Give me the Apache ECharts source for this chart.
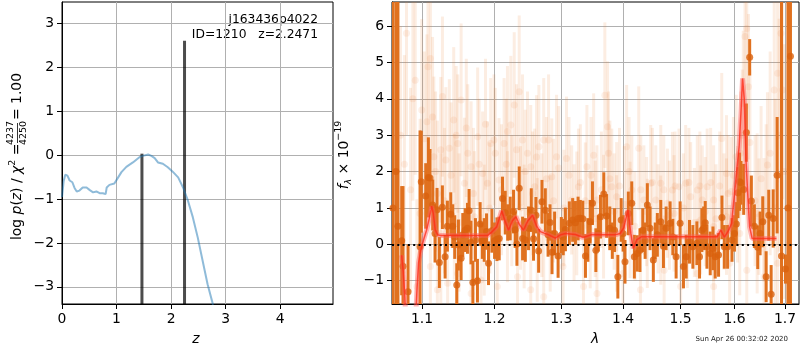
<!DOCTYPE html>
<html><head><meta charset="utf-8">
<script src="https://cdn.jsdelivr.net/npm/echarts@6/dist/echarts.min.js"></script>
<style>html,body{margin:0;padding:0;background:#fff}#c{width:800px;height:350px}</style>
</head><body><div id="c"></div><script>
// ---------- left panel: log p(z) ----------
const pzZ = [0,0.03,0.06,0.10,0.14,0.19,0.23,0.27,0.32,0.38,0.45,0.51,0.57,0.63,0.69,0.75,0.80,0.82,0.87,0.96,
  1.03,1.09,1.18,1.30,1.42,1.48,1.58,1.64,1.70,1.76,1.85,1.94,2.03,2.13,2.22,2.31,2.40,2.49,2.58,2.67,2.77];
const pzLog = [-0.96,-0.60,-0.45,-0.47,-0.58,-0.62,-0.75,-0.83,-0.81,-0.74,-0.74,-0.80,-0.85,-0.83,-0.87,-0.87,-0.89,-0.74,-0.68,-0.65,
  -0.51,-0.39,-0.27,-0.17,-0.05,-0.02,0.01,-0.02,-0.07,-0.17,-0.20,-0.28,-0.38,-0.51,-0.74,-1.04,-1.42,-1.88,-2.41,-2.94,-3.41];
const peakZ = [1.466, 2.2471];
const peakTop = [0.03, 2.60];
const zTicks = [0,1,2,3,4];
const pTicks = [-3,-2,-1,0,1,2,3];

// ---------- right panel: spectrum ----------
const orangeLam = [
1.0623,1.0661,1.0687,1.0735,1.0752,1.0817,1.0974,1.0990,1.1049,1.1084,
1.1106,1.1142,1.1173,1.1200,1.1231,1.1272,1.1309,1.1340,1.1386,1.1413,
1.1440,1.1468,1.1491,1.1528,1.1551,1.1584,1.1616,1.1639,1.1665,1.1692,
1.1728,1.1756,1.1794,1.1825,1.1852,1.1885,1.1913,1.1962,1.2000,1.2034,
1.2067,1.2115,1.2154,1.2190,1.2227,1.2276,1.2300,1.2326,1.2360,1.2410,
1.2451,1.2499,1.2540,1.2574,1.2610,1.2651,1.2702,1.2753,1.2795,1.2825,
1.2856,1.2896,1.2950,1.3000,1.3030,1.3064,1.3126,1.3178,1.3222,1.3264,
1.3300,1.3340,1.3382,1.3421,1.3458,1.3495,1.3550,1.3590,1.3625,1.3680,
1.3726,1.3778,1.3820,1.3857,1.3912,1.3968,1.4000,1.4032,1.4088,1.4146,
1.4190,1.4240,1.4286,1.4334,1.4375,1.4413,1.4460,1.4517,1.4550,1.4587,
1.4647,1.4694,1.4741,1.4812,1.4860,1.4919,1.4991,1.5051,1.5101,1.5160,
1.5222,1.5295,1.5344,1.5387,1.5420,1.5449,1.5481,1.5542,1.5593,1.5635,
1.5698,1.5762,1.5807,1.5869,1.5953,1.6000,1.6036,1.6068,1.6099,1.6126,
1.6178,1.6230,1.6295,1.6328,1.6387,1.6453,1.6500,1.6552,1.6620,1.6672,
1.6720,1.6761,1.6841,1.6929,1.7010,1.7060,1.7112];
const orangeFlux = [
1.0,2.0,0.5,0.1,-0.6,-1.3,-0.07,1.72,1.33,1.84,
1.82,1.08,0.30,0.95,-0.50,1.02,-0.34,0.50,0.83,0.50,
0.20,-1.12,-0.02,-0.38,0.26,0.39,0.44,0.92,0.05,-1.05,
0.12,-1.00,0.56,0.10,0.12,0.35,-0.52,0.37,0.10,0.14,
0.16,1.26,0.87,0.60,0.71,0.90,0.40,0.01,1.54,0.16,
0.12,0.44,0.94,0.15,0.80,-0.18,1.17,0.94,0.26,0.60,
-0.22,0.30,-0.32,0.25,0.20,0.41,0.58,0.67,0.59,0.71,
0.72,0.70,-0.32,0.12,0.62,1.13,-0.16,0.30,0.76,1.38,
0.78,0.44,0.10,0.39,-0.89,0.67,0.30,-0.48,0.85,1.13,
-0.34,-0.25,-0.16,0.39,0.10,1.08,0.44,-0.43,0.10,0.26,
0.62,-0.05,0.44,0.58,0.20,-0.34,0.58,-0.61,-0.34,0.07,
-0.07,0.03,-0.34,0.39,0.44,0.59,-0.07,-0.25,-0.11,-0.34,
-0.29,0.74,-0.07,-0.07,0.12,0.30,0.56,1.42,1.72,1.69,
1.51,3.07,5.14,1.19,0.50,-0.08,0.30,0.62,-0.89,0.80,
-1.37,0.71,1.90,-0.32,-0.68,1.0,5.17];
const orangeErr = [
12,12,12,1.5,2.2,1.3,3.2,1.4,0.9,1.1,
0.8,0.7,0.8,0.6,0.7,0.6,0.6,0.7,0.6,0.6,
0.6,0.6,0.7,0.6,0.6,0.6,0.7,0.6,0.6,0.6,
0.6,0.6,0.6,0.5,0.6,0.5,0.6,0.6,0.5,0.6,
0.6,0.6,0.6,0.5,0.6,0.6,0.5,0.6,0.6,0.6,
0.6,0.6,0.6,0.6,0.5,0.6,0.6,0.6,0.6,0.5,
0.6,0.6,0.6,0.5,0.5,0.6,0.6,0.6,0.6,0.6,
0.5,0.5,0.6,0.6,0.6,0.6,0.6,0.5,0.6,0.6,
0.6,0.6,0.5,0.6,0.6,0.6,0.5,0.6,0.6,0.6,
0.6,0.5,0.6,0.6,0.5,0.6,0.6,0.6,0.5,0.6,
0.6,0.6,0.6,0.6,0.5,0.6,0.6,0.6,0.6,0.6,
0.6,0.6,0.6,0.6,0.6,0.6,0.6,0.6,0.6,0.6,
0.6,0.6,0.6,0.6,0.6,0.5,0.6,0.7,0.8,0.6,
0.7,0.8,0.5,0.7,0.6,0.6,0.6,0.7,0.7,0.7,
0.8,0.8,1.6,7,0.4,12,12];

const faintLam = [
1.0797,1.0911,1.0996,1.1065,1.1111,1.1079,1.1157,1.1204,1.1273,1.1319,
1.1366,1.1426,1.1481,1.1528,1.1574,1.1620,1.1667,1.1759,1.1829,1.1898,
1.1944,1.1991,1.2064,1.2138,1.2187,1.2236,1.2286,1.2360,1.2409,1.2483,
1.2532,1.2591,1.2655,1.2729,1.2803,1.2852,1.2926,1.3081,1.3162,1.3270,
1.3405,1.3514,1.3568,1.3697,1.3741,1.3757,1.3811,1.3892,1.4059,1.4147,
1.4265,1.4353,1.4471,1.4559,1.4647,1.4765,1.4853,1.4971,1.5091,1.5182,
1.5303,1.5394,1.5485,1.5606,1.5758,1.5848,1.5939,1.6034,1.6116,1.6170,
1.6204,1.6238,1.6272,1.6476,1.6578,1.6646,1.6782,1.6850,1.6918,1.6952,
1.0932,1.1111,1.1204,1.1343,1.1481,1.1667,1.1806,1.2039,1.2335,1.2532,
1.2729,1.3027,1.3351,1.3568,1.4000,1.4294,1.4706,1.5000,1.5303,1.5606,
1.5909,1.6238,1.6578,1.6850,
1.0975,1.1250,1.1435,1.1713,1.1852,1.2187,1.2433,1.2630,1.2828,1.3243,
1.3459,1.3676,1.3892,1.4118,1.4412,1.4647,1.4882,1.5121,1.5364,1.5606,
1.5848,1.6102,1.6442];
const faintFlux = [
5.80,4.51,3.69,3.37,5.11,4.88,2.41,1.40,4.06,2.32,
2.64,3.42,2.77,3.97,1.68,2.50,2.13,2.96,1.95,1.68,
2.77,2.87,1.77,2.77,3.10,3.28,3.83,4.19,2.87,2.50,
2.13,1.58,2.68,2.87,2.87,1.86,2.41,2.36,1.22,1.58,
2.13,2.45,1.22,4.10,3.23,2.50,1.58,1.31,2.68,1.49,
2.64,1.22,1.68,1.22,1.68,1.13,1.49,1.58,1.68,1.31,
1.49,1.22,1.58,1.22,2.91,1.95,1.45,2.41,2.50,3.87,
5.71,5.93,4.33,0.76,0.67,2.18,4.24,4.70,5.80,4.24,
-1.16,-0.61,-1.25,-1.07,-0.80,-1.35,-0.98,-1.16,-0.89,-1.25,
-1.44,-0.61,-1.16,-1.35,-0.80,-1.25,-0.71,-1.16,-0.80,-1.16,
-0.52,-0.71,-0.89,-0.52,
0.85,0.30,1.03,0.76,0.39,0.76,0.49,0.12,0.30,0.85,
0.39,0.76,0.30,0.67,0.30,0.39,0.85,0.30,0.67,0.49,
0.76,0.30,0.85];
const faintErr = [
2.8,2.6,2.5,2.4,2.6,2.6,2.2,2.0,2.2,2.0,
1.9,2.0,1.9,2.1,1.8,1.9,1.8,1.9,1.7,1.7,
1.8,1.8,1.7,1.8,1.8,1.9,2.0,2.1,1.8,1.7,
1.7,1.6,1.7,1.7,1.8,1.6,1.7,1.7,1.5,1.6,
1.7,1.7,1.5,2.0,1.8,1.7,1.6,1.5,1.7,1.5,
1.7,1.5,1.6,1.5,1.6,1.5,1.6,1.6,1.6,1.5,
1.5,1.5,1.6,1.5,1.8,1.6,1.5,1.7,1.7,2.0,
2.0,2.2,2.0,1.6,1.7,2.0,2.8,3.0,3.2,3.0,
2.4,2.0,2.2,2.0,1.8,1.9,1.8,1.8,1.7,1.8,
1.8,1.6,1.7,1.7,1.6,1.7,1.5,1.6,1.5,1.6,
1.6,1.7,2.2,2.6,
2.6,2.2,2.0,1.8,1.8,1.8,1.7,1.7,1.6,1.7,
1.6,1.7,1.6,1.6,1.5,1.5,1.6,1.5,1.5,1.5,
1.6,1.7,2.2];
// second set of faint (other exposure) points
const faint2Lam = [
1.0720,1.0770,1.0850,1.0880,1.1030,1.1140,1.1180,1.1250,1.1300,1.1390,
1.1460,1.1500,1.1600,1.1700,1.1780,1.1870,1.1930,1.2010,1.2100,1.2170,
1.2250,1.2320,1.2380,1.2450,1.2560,1.2620,1.2700,1.2770,1.2880,1.2960,
1.3040,1.3120,1.3200,1.3300,1.3380,1.3470,1.3540,1.3640,1.3780,1.3850,
1.3940,1.4020,1.4100,1.4200,1.4300,1.4400,1.4500,1.4600,1.4700,1.4800,
1.4900,1.5050,1.5150,1.5250,1.5350,1.5450,1.5550,1.5650,1.5720,1.5800,
1.5880,1.5980,1.6060,1.6150,1.6300,1.6400,1.6520,1.6620,1.6700,1.6800,
1.6880,1.6990];
const faint2Flux = [
3.0,2.2,1.5,4.0,2.9,3.5,2.0,2.6,1.2,1.9,
3.0,0.6,3.2,1.4,2.2,3.3,1.0,2.5,1.5,2.2,
1.2,2.6,1.0,2.0,1.4,2.4,0.8,1.8,1.2,2.1,
1.0,1.9,0.6,1.7,1.2,1.9,0.7,1.5,1.8,0.9,
1.6,1.1,2.0,0.5,1.5,0.9,1.7,0.7,1.5,0.8,
1.6,1.0,1.7,0.6,1.6,0.9,1.7,0.7,1.6,0.9,
1.4,1.9,1.1,3.0,2.8,1.2,1.8,0.9,2.5,1.0,
3.0,2.0];
const faint2Err = [
3.0,3.0,2.8,2.8,2.4,2.2,2.2,2.0,2.0,2.0,
1.9,1.9,1.9,1.8,1.8,1.8,1.8,1.8,1.8,1.8,
1.8,1.8,1.7,1.7,1.7,1.7,1.7,1.7,1.7,1.7,
1.6,1.6,1.6,1.6,1.6,1.6,1.6,1.6,1.6,1.6,
1.6,1.6,1.5,1.5,1.5,1.5,1.5,1.5,1.5,1.5,
1.5,1.5,1.5,1.5,1.5,1.5,1.5,1.5,1.5,1.6,
1.6,1.6,1.6,1.8,2.0,1.8,2.0,2.4,2.8,3.0,
3.2,3.5];

const modelLam = [1.0735,1.0755,1.0775,1.0790,1.0850,
1.0912,1.0935,1.0955,1.0985,1.1020,1.1060,1.1095,1.1128,1.1150,1.1175,1.1210,1.1250,1.1500,1.1750,1.1900,
1.1950,1.2030,1.2103,1.2150,1.2203,1.2260,1.2312,1.2360,1.2423,1.2490,1.2560,1.2620,1.2677,1.2805,1.2907,
1.2985,1.3064,1.3222,1.3339,1.3490,1.3651,1.3860,1.3950,1.4010,1.4082,1.4130,1.4172,1.4230,1.4315,1.5000,
1.5673,1.5739,1.5809,1.5891,1.5946,1.6002,1.6045,1.6090,1.6128,1.6156,1.6190,1.6223,1.6256,1.6294,1.6344,1.6827];
const modelFlux = [-0.30,-0.75,-1.40,-2.2,null,
-2.2,-1.2,-0.5,-0.15,0.12,0.39,0.70,1.05,0.85,0.40,0.26,0.24,0.24,0.24,0.24,
0.32,0.48,0.92,0.65,0.39,0.65,0.76,0.55,0.39,0.65,0.80,0.50,0.35,0.26,0.17,
0.26,0.30,0.27,0.19,0.27,0.26,0.26,0.30,0.45,0.94,0.30,-0.11,0.12,0.21,0.21,
0.21,0.39,0.20,0.39,0.58,1.40,2.04,2.68,3.69,4.56,3.99,2.32,1.40,0.48,0.16,0.16];
const lamTicks = [1.1,1.2,1.3,1.4,1.5,1.6,1.7];
const fTicks = [-1,0,1,2,3,4,5,6];

// axis ranges
const zMin = 0, zMax = 4.97, pMin = -3.39, pMax = 3.48;
const lamMin = 1.0611, lamMax = 1.7288, fMin = -1.64, fMax = 6.66;

const FONT = 'DejaVu Sans';
const minus = v => String(v).replace('-', '\u2212');
function axis(gi, min, max, ticks, fmt) {
  return {
    type: 'value', gridIndex: gi, min: min, max: max, scale: true,
    axisLine: {show: true, onZero: false, lineStyle: {color: '#000', width: 1}},
    axisTick: {show: true, length: 5, inside: false, lineStyle: {color: '#000', width: 1}, customValues: ticks},
    axisLabel: {show: true, customValues: ticks, formatter: fmt, color: '#000', fontFamily: FONT, fontSize: 13.9, margin: 8},
    splitLine: {show: true, lineStyle: {color: '#b0b0b0', width: 1}}
  };
}
function errSeries(xi, lams, flux, errs, color, width, logx, ylo, yhi) {
  return {
    type: 'custom', xAxisIndex: xi, yAxisIndex: xi, clip: true, silent: true,
    data: lams.map((l, i) => [logx ? Math.log(l) : l, flux[i], errs[i]]),
    encode: {x: 0, y: 1},
    renderItem: (params, api) => {
      const x = api.value(0), y = api.value(1), e = api.value(2);
      const a = api.coord([x, Math.max(ylo, y - e)]);
      const b = api.coord([x, Math.min(yhi, y + e)]);
      return {type: 'line', shape: {x1: a[0], y1: a[1], x2: b[0], y2: b[1]},
        style: {stroke: color, lineWidth: width}};
    }
  };
}

const allFaintLam = faintLam.concat(faint2Lam);
const allFaintFlux = faintFlux.concat(faint2Flux);
const allFaintErr = faintErr.concat(faint2Err);

const xL = axis(0, zMin, zMax, zTicks, v => minus(v));
const yL = axis(0, pMin, pMax, pTicks, v => minus(v));
const xR = axis(1, Math.log(lamMin), Math.log(lamMax), lamTicks.map(Math.log), v => Math.exp(v).toFixed(1));
const yR = axis(1, fMin, fMax, fTicks, v => minus(v));

const chart = echarts.init(document.getElementById('c'), null, {renderer: 'canvas'});
chart.setOption({
  animation: false,
  backgroundColor: '#fff',
  grid: [
    {left: 62, top: 2, width: 271, height: 302, show: true, borderColor: '#000', borderWidth: 1, backgroundColor: 'transparent'},
    {left: 392, top: 2, width: 407, height: 302, show: true, borderColor: '#000', borderWidth: 1, backgroundColor: 'transparent'}
  ],
  xAxis: [xL, xR],
  yAxis: [yL, yR],
  series: [
    {type: 'line', xAxisIndex: 0, yAxisIndex: 0, data: pzZ.map((z, i) => [z, pzLog[i]]), showSymbol: false,
      lineStyle: {color: 'rgba(31,119,180,0.5)', width: 2}, clip: true, silent: true},
    {type: 'custom', xAxisIndex: 0, yAxisIndex: 0, clip: true, silent: true,
      data: peakZ.map((z, i) => [z, peakTop[i]]), encode: {x: 0, y: 1},
      renderItem: (p, api) => {
        const a = api.coord([api.value(0), pMin]), b = api.coord([api.value(0), api.value(1)]);
        return {type: 'line', shape: {x1: a[0], y1: a[1], x2: b[0], y2: b[1]}, style: {stroke: 'rgba(0,0,0,0.7)', lineWidth: 3}};
      }},
    errSeries(1, allFaintLam, allFaintFlux, allFaintErr, 'rgba(235,125,50,0.14)', 3, true, fMin, fMax),
    {type: 'scatter', xAxisIndex: 1, yAxisIndex: 1, silent: true, symbolSize: 7,
      data: allFaintLam.map((l, i) => [Math.log(l), allFaintFlux[i]]),
      itemStyle: {color: 'rgba(235,125,50,0.14)'}},
    {type: 'line', xAxisIndex: 1, yAxisIndex: 1, silent: true, showSymbol: false, connectNulls: false,
      data: modelLam.map((l, i) => [Math.log(l), modelFlux[i] === null ? '-' : modelFlux[i]]),
      lineStyle: {color: 'rgba(255,90,90,0.45)', width: 5}},
    errSeries(1, orangeLam, orangeFlux, orangeErr, '#e0711f', 3, true, fMin, fMax),
    {type: 'scatter', xAxisIndex: 1, yAxisIndex: 1, silent: true, symbolSize: 7,
      data: orangeLam.map((l, i) => [Math.log(l), orangeFlux[i]]),
      itemStyle: {color: '#d9620e'}},
    {type: 'line', xAxisIndex: 1, yAxisIndex: 1, silent: true, showSymbol: false, connectNulls: false,
      data: modelLam.map((l, i) => [Math.log(l), modelFlux[i] === null ? '-' : modelFlux[i]]),
      lineStyle: {color: 'rgba(255,40,20,0.75)', width: 1.5},
      markLine: {silent: true, symbol: 'none', label: {show: false},
        lineStyle: {color: '#000', type: [2, 3.3], width: 2}, data: [{yAxis: 0}]}}
  ],
  graphic: [
    {type: 'text', x: 318, y: 20, style: {text: 'j163436p4022', font: '12.3px "DejaVu Sans"', fill: '#000', align: 'right', verticalAlign: 'middle'}},
    {type: 'text', x: 318, y: 35, style: {text: 'ID=1210   z=2.2471', font: '12.3px "DejaVu Sans"', fill: '#000', align: 'right', verticalAlign: 'middle'}},
    {type: 'text', x: 196, y: 339, style: {text: 'z', font: 'italic 13.9px "DejaVu Sans"', fill: '#000', align: 'center', verticalAlign: 'middle'}},
    {type: 'text', x: 595, y: 339, style: {text: 'λ', font: 'italic 13.9px "DejaVu Sans"', fill: '#000', align: 'center', verticalAlign: 'middle'}},
    {type: 'text', x: 788, y: 339, style: {text: 'Sun Apr 26 00:32:02 2020', font: '7px "DejaVu Sans"', fill: '#222', align: 'right', verticalAlign: 'middle'}},
    {type: 'group', x: 17, y: 240, rotation: Math.PI / 2, children: [
      {type: 'text', x: 0, y: 0, style: {text: '{n|log }{i|p}{n|(}{i|z}{n|) / }{i|χ}{s|2}{n| =}', align: 'left', verticalAlign: 'middle',
        rich: {n: {font: '13.9px "DejaVu Sans"', fill: '#000', lineHeight: 18},
               i: {font: 'italic 13.9px "DejaVu Sans"', fill: '#000', lineHeight: 18},
               s: {font: '9.5px "DejaVu Sans"', fill: '#000', verticalAlign: 'top', lineHeight: 18}}}},
      {type: 'text', x: 107, y: -1, style: {text: '4237', font: '9.5px "DejaVu Sans"', fill: '#000', align: 'center', verticalAlign: 'bottom'}},
      {type: 'line', shape: {x1: 97, y1: 0.5, x2: 117, y2: 0.5}, style: {stroke: '#000', lineWidth: 0.8}},
      {type: 'text', x: 107, y: 1.5, style: {text: '4250', font: '9.5px "DejaVu Sans"', fill: '#000', align: 'center', verticalAlign: 'top'}},
      {type: 'text', x: 120, y: 0, style: {text: '= 1.00', font: '13.9px "DejaVu Sans"', fill: '#000', align: 'left', verticalAlign: 'middle'}}
    ]},
    {type: 'group', x: 344, y: 155, rotation: Math.PI / 2, children: [
      {type: 'text', x: 0, y: 0, style: {text: '{i|f}{b|λ}{n| × 10}{s|−19}', align: 'center', verticalAlign: 'middle',
        rich: {n: {font: '13.9px "DejaVu Sans"', fill: '#000', lineHeight: 20},
               i: {font: 'italic 13.9px "DejaVu Sans"', fill: '#000', lineHeight: 20},
               b: {font: 'italic 9.5px "DejaVu Sans"', fill: '#000', verticalAlign: 'bottom', lineHeight: 20},
               s: {font: '9.5px "DejaVu Sans"', fill: '#000', verticalAlign: 'top', lineHeight: 20}}}}
    ]}
  ]
});
</script></body></html>
